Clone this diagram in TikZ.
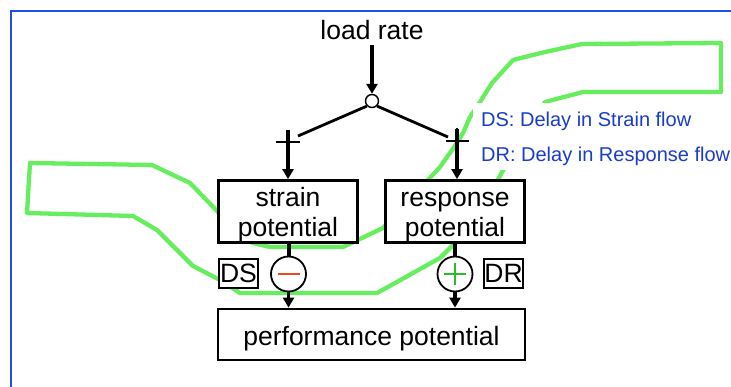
\documentclass[tikz,border=0pt]{standalone}
\usepackage{fontspec}
\setmainfont{Liberation Sans}
\usetikzlibrary{arrows.meta}
\definecolor{frameblue}{RGB}{30,80,225}
\definecolor{noteblue}{RGB}{25,60,205}
\definecolor{hlgreen}{RGB}{102,238,94}
\definecolor{minusred}{RGB}{245,70,25}
\definecolor{plusgreen}{RGB}{40,190,40}
\begin{document}
\begin{tikzpicture}[x=1pt,y=-1pt,
  box/.style={draw=black, line width=2.8pt, fill=white, inner sep=0pt},
  tag/.style={draw=black, line width=1.8pt, fill=white, inner sep=0pt,
    minimum width=39pt, minimum height=29pt, font=\fontsize{26.5}{31}\selectfont},
  lbl/.style={font=\fontsize{26.5}{31}\selectfont, inner sep=0pt, anchor=base},
  note/.style={font=\fontsize{20}{24}\selectfont, text=noteblue, inner sep=0pt, anchor=base west},
  sum/.style={circle, draw=black, line width=1.8pt, fill=white, inner sep=0pt, minimum size=35pt},
  wire/.style={line width=2.8pt},
  thick arrow/.style={line width=3.2pt, -{Triangle[length=10pt,width=11pt]}},
  hl/.style={draw=hlgreen, line width=4.3pt, line join=round},
]
\useasboundingbox (0,0) rectangle (731,387);
\fill[white] (0,0) rectangle (731,387);
% frame along the top and left
\draw[frameblue, line width=2pt] (11,387) -- (11,11) -- (731,11);

% green highlight loop (drawn first, boxes sit on top of it)
\draw[hl] (721,92) -- (583,92) -- (545,102) -- (502,172) -- (498,180) -- (455,243)
  -- (440,258) -- (377,293) -- (240,293) -- (220,280) -- (193,266) -- (157,230)
  -- (133,216) -- (27,213) -- (30,163) -- (152,165) -- (190,183) -- (218,212)
  -- (253,243) -- (270,247) -- (343,247) -- (383,228) -- (428,180) -- (440,167)
  -- (457,143) -- (463,133) -- (470,117) -- (480,102) -- (492,83) -- (513,60)
  -- (545,52) -- (582,44) -- (721,43) -- cycle;

% legend
\fill[white] (473,103) rectangle (731,170);
\node[note] (ds note) at (481,127) {DS: Delay in Strain flow};
\node[note] (dr note) at (481,162) {DR: Delay in Response flow};

% input and split
\node[lbl] (load) at (372,40) {load rate};
\node[circle, draw=black, line width=1.4pt, fill=white, inner sep=0pt, minimum size=13pt] (jn) at (372,101) {};
\draw[thick arrow] (load.south |- 0,45) -- (jn.north);
\coordinate (lc) at (288,142);
\coordinate (rc) at (457,141);
\draw[wire] (jn.south west) -- (298,136);
\draw[wire] (jn.south east) -- (448,137);
\draw[wire] ([shift={(-12,0)}]lc) -- ([shift={(12,0)}]lc);
\draw[wire] ([shift={(0,-11)}]lc) -- ([shift={(0,11)}]lc);
\draw[wire] ([shift={(-11,0)}]rc) -- ([shift={(12,0)}]rc);
\draw[wire] ([shift={(0,-13)}]rc) -- ([shift={(0,12)}]rc);

% potentials
\node[box, minimum width=139pt, minimum height=62pt] (strain) at (288,211.5) {};
\node[box, minimum width=139pt, minimum height=62pt] (response) at (455,211.5) {};
\node[lbl] (strain t1) at (288,206.5) {strain};
\node[lbl] (strain t2) at (288,237) {potential};
\node[lbl] (response t1) at (455,206.5) {response};
\node[lbl] (response t2) at (455,237) {potential};
\draw[thick arrow] ([yshift=12pt]lc) -- (strain.north -| lc);
\draw[thick arrow] ([yshift=12pt]rc) -- (response.north -| rc);

% delays and signs
\node[sum] (minus) at (288.5,274) {};
\node[sum] (plus) at (455,274) {};
\draw[minusred, line width=2.8pt] ([xshift=-11pt]minus.center) -- ([xshift=11pt]minus.center);
\draw[plusgreen, line width=2.8pt] ([xshift=-11pt]plus.center) -- ([xshift=11pt]plus.center);
\draw[plusgreen, line width=2.8pt] ([yshift=-11pt]plus.center) -- ([yshift=11pt]plus.center);
\node[tag] (ds) at (238.5,273.5) {DS};
\node[tag] (dr) at (503.5,273.5) {DR};
\draw[line width=4pt] (strain.south -| minus) -- (minus.north);
\draw[line width=4pt] (response.south -| plus) -- (plus.north);

% output
\node[box, minimum width=307pt, minimum height=51pt] (perf) at (371.5,334.5) {};
\node[lbl] (perf t) at (371.5,345) {performance potential};
\draw[thick arrow] (minus.south) -- (perf.north -| minus);
\draw[thick arrow] (plus.south) -- (perf.north -| plus);
\end{tikzpicture}
\end{document}
